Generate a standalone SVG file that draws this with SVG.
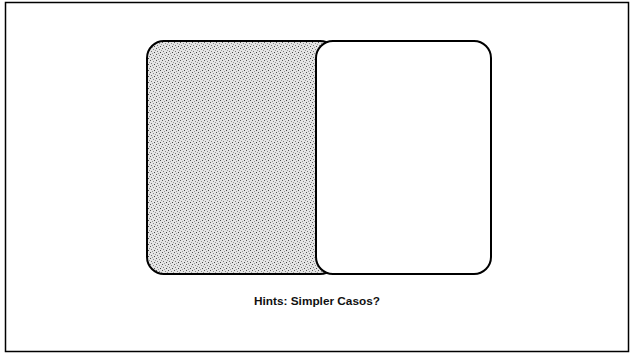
<svg xmlns="http://www.w3.org/2000/svg" width="631" height="356" viewBox="0 0 631 356">
<defs>
<pattern id="stip" width="6" height="6" patternUnits="userSpaceOnUse">
<rect width="6" height="6" fill="#e4e4e4"/>
<rect x="0" y="0" width="1" height="1" fill="#555"/>
<rect x="3" y="1" width="1" height="1" fill="#888"/>
<rect x="1" y="3" width="1" height="1" fill="#777"/>
<rect x="4" y="4" width="1" height="1" fill="#444"/>
<rect x="5" y="2" width="1" height="1" fill="#999"/>
<rect x="2" y="5" width="1" height="1" fill="#999"/>
</pattern>
<style>
.box{stroke:#000;stroke-width:2}
.lbl{font-family:"Liberation Sans",Arial,sans-serif;font-weight:bold;font-size:10px;fill:#111}
</style>
</defs>
<rect x="5.5" y="2.5" width="623" height="349" fill="#fff" stroke="#000" stroke-width="1.5"/>
<g id="shaded">
<rect class="box" x="147" y="41" width="190" height="233" rx="17" fill="url(#stip)"/>
</g>
<g id="white">
<rect class="box" x="316" y="41" width="175" height="233" rx="17" fill="#fff"/>
</g>
<g id="connectors"></g>
<text class="lbl" x="317" y="305" text-anchor="middle" textLength="126" lengthAdjust="spacingAndGlyphs">Hints: Simpler Casos?</text>
</svg>
